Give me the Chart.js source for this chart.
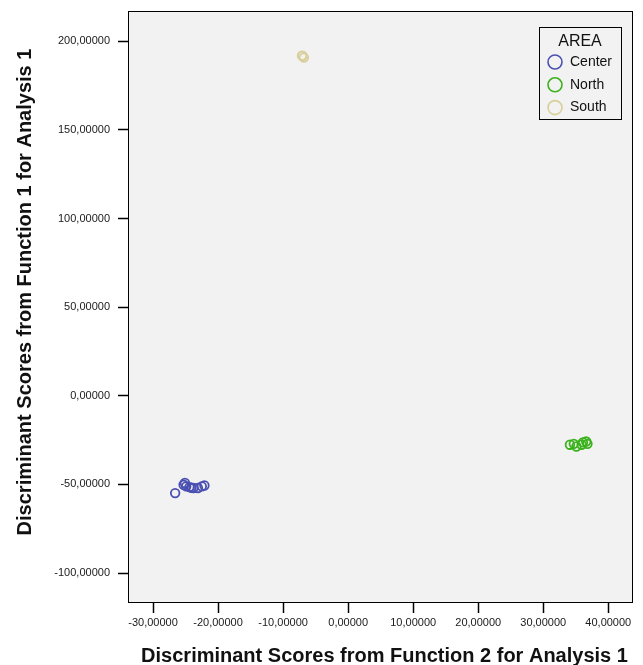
<!DOCTYPE html>
<html>
<head>
<meta charset="utf-8">
<script src="https://cdn.jsdelivr.net/npm/chart.js@4.4.0/dist/chart.umd.min.js"></script>
<style>
  html, body { margin: 0; padding: 0; background: #ffffff; }
  #wrap { width: 643px; height: 665px; }
</style>
</head>
<body>
<div id="wrap"><canvas id="scoreChart" width="643" height="665"></canvas></div>
<script>
// Discriminant scores per AREA group
const areaNames = ['Center', 'North', 'South'];
const areaColors = ['#4a50b2', '#3bb21d', '#d9cf9c'];

const centerX = [-26.6, -25.3, -25.1, -24.9, -24.4, -24.1, -23.8, -23.1, -22.5, -22.1];
const centerY = [-54.9, -50.2, -49.2, -51.1, -51.5, -51.9, -52.0, -52.0, -51.1, -50.6];
const northX = [34.1, 34.7, 35.1, 35.9, 36.1, 36.6, 36.8];
const northY = [-27.6, -27.1, -28.6, -27.6, -26.3, -25.8, -27.1];
const southX = [-7.1, -7.0, -6.8];
const southY = [191.9, 191.7, 190.8];

const xTicks = [-30, -20, -10, 0, 10, 20, 30, 40];
const yTicks = [-100, -50, 0, 50, 100, 150, 200];

const xTitle = 'Discriminant Scores from Function 2 for Analysis 1';
const yTitle = 'Discriminant Scores from Function 1 for Analysis 1';

const FONT = "'Liberation Sans', Arial, Helvetica, sans-serif";

function toPoints(xs, ys) {
    return xs.map((x, i) => ({ x: x, y: ys[i] }));
}

// values shown with five decimals and a decimal comma
function fmt(v) {
    return v.toFixed(5).replace('.', ',');
}

// plot background and frame
const framePlugin = {
    id: 'frame',
    beforeDatasetsDraw(chart) {
        const { ctx, chartArea: a } = chart;
        ctx.save();
        ctx.fillStyle = '#f2f2f2';
        ctx.fillRect(a.left, a.top, a.right - a.left, a.bottom - a.top);
        ctx.restore();
    },
    afterDatasetsDraw(chart) {
        const { ctx, chartArea: a } = chart;
        ctx.save();
        ctx.strokeStyle = '#000000';
        ctx.lineWidth = 1;
        ctx.strokeRect(a.left + 0.5, a.top + 0.5, a.right - a.left - 1, a.bottom - a.top - 1);
        ctx.restore();
    }
};

// axis titles, placed a little off the plot centre like the SPSS output
const axisTitles = {
    id: 'axisTitles',
    afterDraw(chart) {
        const { ctx, chartArea: a } = chart;
        ctx.save();
        ctx.fillStyle = '#111111';
        ctx.font = 'bold 20px ' + FONT;
        ctx.textAlign = 'center';
        ctx.textBaseline = 'middle';
        ctx.fillText(xTitle, (a.left + a.right) / 2 + 4, chart.height - 9);
        ctx.translate(25, (a.top + a.bottom) / 2 - 15);
        ctx.rotate(-Math.PI / 2);
        ctx.fillText(yTitle, 0, 0);
        ctx.restore();
    }
};

// boxed legend in the upper right corner of the plot
const areaLegend = {
    id: 'areaLegend',
    afterDraw(chart) {
        const { ctx, chartArea: a } = chart;
        const w = 82, h = 92;
        const x0 = a.right - 12 - w, y0 = a.top + 16;
        ctx.save();
        ctx.fillStyle = '#f2f2f2';
        ctx.fillRect(x0, y0, w, h);
        ctx.strokeStyle = '#000000';
        ctx.lineWidth = 1;
        ctx.strokeRect(x0 + 0.5, y0 + 0.5, w, h);

        ctx.fillStyle = '#111111';
        ctx.font = '16px ' + FONT;
        ctx.textAlign = 'center';
        ctx.textBaseline = 'middle';
        ctx.fillText('AREA', x0 + w / 2, y0 + 15);

        ctx.font = '14px ' + FONT;
        ctx.textAlign = 'left';
        chart.data.datasets.forEach((ds, i) => {
            const cy = y0 + 35 + i * 22.8;
            ctx.beginPath();
            ctx.arc(x0 + 16, cy, 7, 0, Math.PI * 2);
            ctx.strokeStyle = ds.borderColor;
            ctx.lineWidth = 1.6;
            ctx.stroke();
            ctx.fillStyle = '#111111';
            ctx.fillText(ds.label, x0 + 31, cy);
        });
        ctx.restore();
    }
};

const series = [toPoints(centerX, centerY), toPoints(northX, northY), toPoints(southX, southY)];

const ctx = document.getElementById('scoreChart').getContext('2d');
const scoreChart = new Chart(ctx, {
    type: 'scatter',
    data: {
        datasets: areaNames.map((name, i) => ({
            label: name,
            data: series[i],
            borderColor: areaColors[i],
            backgroundColor: 'rgba(0,0,0,0)',
            borderWidth: 1.8,
            pointRadius: 4.3,
            pointHoverRadius: 4.3
        }))
    },
    options: {
        responsive: false,
        animation: false,
        layout: { padding: { top: 11, right: 10, left: 0, bottom: 0 } },
        plugins: {
            legend: { display: false },
            tooltip: { enabled: false }
        },
        scales: {
            x: {
                type: 'linear',
                min: -33.85,
                max: 43.8,
                afterFit(scale) {
                    scale.height = 62;
                    scale.paddingLeft = 0;
                    scale.paddingRight = 0;
                },
                afterBuildTicks(scale) { scale.ticks = xTicks.map(v => ({ value: v })); },
                border: { display: false },
                grid: {
                    drawOnChartArea: false,
                    drawTicks: true,
                    tickLength: 10,
                    tickWidth: 1.5,
                    tickColor: '#000000'
                },
                ticks: {
                    callback: v => fmt(v),
                    maxRotation: 0,
                    autoSkip: false,
                    padding: 3,
                    color: '#1a1a1a',
                    font: { family: FONT, size: 11 }
                }
            },
            y: {
                type: 'linear',
                min: -116.9,
                max: 217.1,
                afterFit(scale) {
                    scale.width = 128;
                    scale.paddingTop = 0;
                    scale.paddingBottom = 0;
                },
                afterBuildTicks(scale) { scale.ticks = yTicks.map(v => ({ value: v })); },
                border: { display: false },
                grid: {
                    drawOnChartArea: false,
                    drawTicks: true,
                    tickLength: 10,
                    tickWidth: 1.5,
                    tickColor: '#000000'
                },
                ticks: {
                    callback: v => fmt(v),
                    autoSkip: false,
                    padding: 8,
                    color: '#1a1a1a',
                    font: { family: FONT, size: 11 }
                }
            }
        }
    },
    plugins: [framePlugin, axisTitles, areaLegend]
});
</script>
</body>
</html>
